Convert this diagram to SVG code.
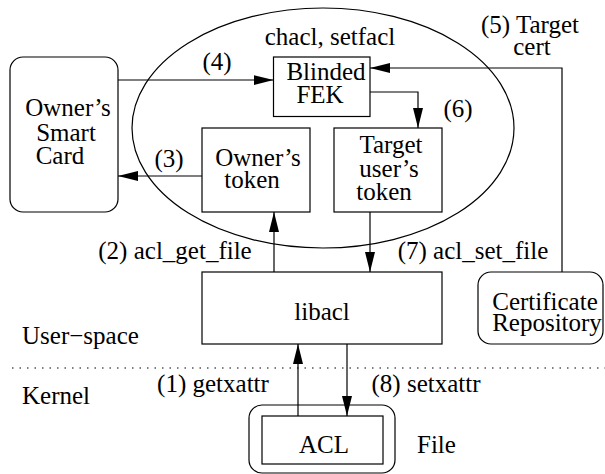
<svg xmlns="http://www.w3.org/2000/svg" width="605" height="474" viewBox="0 0 605 474" font-family="'Liberation Serif', 'DejaVu Serif', serif">
<style>
  text { font-family: 'Liberation Serif', 'DejaVu Serif', serif; font-size: 25px; fill: #000; }
  .m { text-anchor: middle; }
  .box { fill: none; stroke: #000; stroke-width: 1.2; }
  .ln { fill: none; stroke: #000; stroke-width: 1.2; }
</style>
<defs>
  <marker id="ah" markerWidth="20" markerHeight="10" refX="20" refY="5" orient="auto" markerUnits="userSpaceOnUse">
    <path d="M0,0 L20,5 L0,10 Z" fill="#000"/>
  </marker>
</defs>
<rect width="605" height="474" fill="#fff"/>

<g id="tools">
  <ellipse cx="323" cy="128" rx="191" ry="120" class="box"/>
  <text class="m" x="330" y="45">chacl, setfacl</text>
</g>

<g id="smartcard">
  <rect x="10" y="57" width="108" height="155" rx="13" class="box"/>
  <text class="m" x="68" y="116">Owner’s</text>
  <text class="m" x="66" y="141">Smart</text>
  <text class="m" x="60" y="164">Card</text>
</g>

<g id="blindedfek">
  <rect x="273.5" y="57" width="96.5" height="59.5" class="box"/>
  <text class="m" x="326" y="80">Blinded</text>
  <text class="m" x="320" y="103">FEK</text>
</g>

<g id="ownertoken">
  <rect x="202" y="128" width="108" height="84" class="box"/>
  <text class="m" x="258" y="166">Owner’s</text>
  <text class="m" x="252" y="188">token</text>
</g>

<g id="targettoken">
  <rect x="334" y="128" width="108" height="84" class="box"/>
  <text class="m" x="391" y="153">Target</text>
  <text class="m" x="389" y="177">user’s</text>
  <text class="m" x="384" y="200">token</text>
</g>

<g id="libacl">
  <rect x="202" y="272" width="240" height="72" class="box"/>
  <text class="m" x="322" y="320">libacl</text>
</g>

<g id="certrepo">
  <rect x="478" y="272" width="125" height="72" rx="13" class="box"/>
  <text class="m" x="545" y="310">Certificate</text>
  <text class="m" x="547" y="331">Repository</text>
</g>

<g id="file">
  <rect x="249" y="405" width="146" height="68" rx="13" class="box"/>
  <rect x="262" y="416" width="121" height="48" class="box"/>
  <text class="m" x="324" y="453">ACL</text>
  <text x="417" y="453">File</text>
</g>

<g id="labels">
  <text x="22" y="344">User−space</text>
  <text x="22" y="404">Kernel</text>
  <line x1="12" y1="368" x2="605" y2="368" stroke="#000" stroke-width="1.2" stroke-dasharray="1.5 6"/>
</g>

<g id="connectors">
  <line class="ln" x1="118" y1="80" x2="273.5" y2="80" marker-end="url(#ah)"/>
  <text class="m" x="217" y="70">(4)</text>
  <line class="ln" x1="202" y1="176" x2="118" y2="176" marker-end="url(#ah)"/>
  <text class="m" x="169" y="167">(3)</text>
  <polyline class="ln" points="562,272 562,68 370,68" marker-end="url(#ah)"/>
  <text class="m" x="530" y="33">(5) Target</text>
  <text class="m" x="532" y="55">cert</text>
  <polyline class="ln" points="370,92 418,92 418,128" marker-end="url(#ah)"/>
  <text class="m" x="458" y="117">(6)</text>
  <line class="ln" x1="274" y1="272" x2="274" y2="212" marker-end="url(#ah)"/>
  <text class="m" x="175" y="259">(2) acl_get_file</text>
  <line class="ln" x1="370" y1="212" x2="370" y2="272" marker-end="url(#ah)"/>
  <text class="m" x="473" y="259">(7) acl_set_file</text>
  <line class="ln" x1="298" y1="416" x2="298" y2="344" marker-end="url(#ah)"/>
  <text class="m" x="213" y="392">(1) getxattr</text>
  <line class="ln" x1="347" y1="344" x2="347" y2="416" marker-end="url(#ah)"/>
  <text class="m" x="426" y="392">(8) setxattr</text>
</g>
</svg>
